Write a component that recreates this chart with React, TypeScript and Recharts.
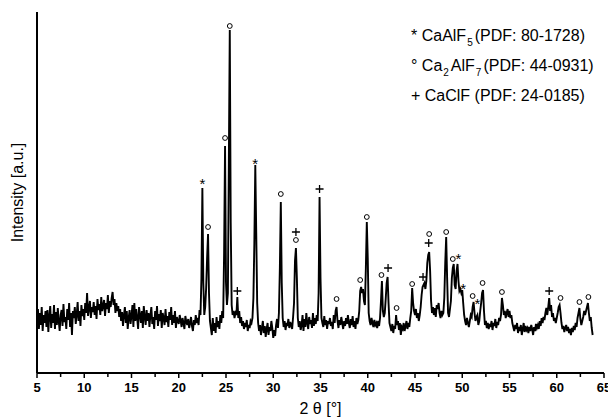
import { ComposedChart, Line, Scatter, XAxis, YAxis } from 'recharts';

// XRD scan: 2θ from 5° in 0.1° steps
const START = 5;
const STEP = 0.1;
const intensity = [
  52, 64, 44, 60, 48, 66, 42, 58, 50, 62,
  46, 63, 41, 57, 67, 45, 59, 50, 68, 44,
  61, 48, 65, 52, 42, 58, 63, 47, 69, 51,
  56, 44, 64, 53, 70, 46, 60, 38, 62, 55,
  66, 49, 58, 71, 52, 62, 47, 68, 57, 64,
  53, 70, 60, 80, 57, 65, 72, 55, 66, 61,
  71, 58, 67, 54, 74, 63, 69, 58, 76, 62,
  67, 73, 57, 70, 64, 78, 60, 72, 66, 75,
  81, 68, 74, 60, 70, 62, 67, 56, 64, 52,
  61, 47, 58, 66, 50, 62, 44, 55, 63, 49,
  57, 68, 46, 70, 52, 64, 55, 44, 66, 58,
  50, 62, 45, 67, 56, 48, 63, 52, 60, 46,
  58, 66, 49, 56, 44, 62, 53, 67, 47, 59,
  52, 63, 45, 60, 55, 48, 64, 51, 57, 46,
  61, 53, 66, 48, 58, 50, 62, 45, 56, 52,
  49, 58, 53, 46, 55, 50, 44, 57, 51, 48,
  54, 45, 50, 56, 47, 42, 53, 48, 58, 50,
  55, 48, 63, 58, 95, 185, 90, 58, 66, 85,
  115, 139, 80, 52, 45, 38, 55, 42, 50, 40,
  56, 46, 52, 44, 58, 50, 62, 55, 120, 227,
  90, 68, 80, 210, 343, 150, 68, 58, 62, 55,
  60, 58, 76, 55, 62, 50, 56, 47, 52, 44,
  50, 46, 53, 42, 48, 45, 52, 50, 55, 75,
  130, 208, 140, 70, 50, 42, 48, 38, 45, 52,
  40, 47, 36, 44, 50, 38, 46, 42, 52, 45,
  35, 43, 37, 48, 54, 45, 60, 105, 171, 90,
  55, 46, 52, 43, 50, 47, 54, 45, 51, 48,
  44, 56, 70, 112, 125, 95, 55, 46, 52, 43,
  48, 58, 42, 54, 46, 60, 50, 44, 56, 49,
  53, 45, 60, 47, 55, 49, 58, 52, 80, 176,
  95, 55, 50, 46, 57, 48, 53, 44, 52, 49,
  55, 47, 51, 44, 58, 50, 62, 66, 52, 45,
  53, 48, 56, 50, 44, 52, 47, 55, 49, 58,
  50, 45, 54, 48, 57, 46, 52, 44, 55, 49,
  53, 62, 82, 86, 80, 84, 72, 68, 105, 151,
  115, 60, 52, 48, 55, 50, 46, 53, 48, 50,
  45, 52, 47, 55, 72, 92, 62, 56, 60, 74,
  90, 96, 70, 50, 46, 42, 49, 40, 47, 44,
  58, 48, 52, 43, 50, 38, 46, 44, 50, 42,
  47, 52, 44, 50, 46, 55, 62, 85, 70, 62,
  58, 64, 55, 60, 52, 58, 66, 78, 86, 88,
  90, 84, 92, 110, 118, 121, 102, 72, 60, 66,
  58, 65, 56, 68, 64, 70, 60, 55, 62, 58,
  60, 75, 110, 136, 95, 60, 56, 64, 72, 95,
  105, 109, 88, 84, 102, 109, 92, 82, 84, 80,
  83, 70, 58, 52, 48, 55, 50, 46, 52, 58,
  56, 66, 71, 60, 52, 56, 58, 48, 52, 62,
  70, 80, 83, 62, 48, 52, 45, 50, 44, 49,
  46, 52, 43, 50, 47, 54, 45, 51, 48, 55,
  52, 58, 75, 68, 58, 62, 55, 60, 64, 56,
  62, 55, 58, 50, 46, 42, 48, 44, 50, 40,
  46, 42, 48, 38, 44, 50, 41, 47, 43, 45,
  40, 46, 42, 48, 44, 38, 46, 42, 49, 45,
  48, 44, 52, 47, 55, 50, 56, 53, 60, 65,
  58, 66, 75, 62, 68, 56, 60, 52, 55, 50,
  55, 60, 66, 68, 60, 50, 44, 47, 41, 45,
  48, 42, 46, 40, 44, 38, 45, 41, 47, 43,
  50, 46, 55, 60, 65, 54, 48, 52, 56, 62,
  58, 62, 66, 70, 60, 52, 56, 45, 38,
];

// phase marks: * CaAlF5, o Ca2AlF7, + CaClF
const markX = [
  22.5, 23.1, 24.9, 25.4, 26.2, 28.1, 30.8, 32.4, 32.4, 34.9,
  36.7, 39.2, 39.9, 41.45, 42.15, 43.05, 44.7, 45.85, 46.45, 46.5,
  48.3, 49.0, 49.6, 50.1, 51.1, 51.6, 52.15, 54.2, 59.2, 60.4,
  62.4, 63.35,
];
const markY = [
  191, 146, 235, 347, 82, 211, 179, 141, 133, 184,
  74, 93, 156, 98, 105, 65, 89, 96, 130, 139,
  141, 114, 116, 86, 77, 71, 90, 81, 82, 75,
  71, 76,
];
const markSym = [
  '*', 'o', 'o', 'o', '+', '*', 'o', '+', 'o', '+',
  'o', 'o', 'o', 'o', '+', 'o', 'o', '+', '+', 'o',
  'o', 'o', '*', '*', 'o', '*', 'o', 'o', '+', 'o',
  'o', 'o',
];

const xTicks = [5, 7.5, 10, 12.5, 15, 17.5, 20, 22.5, 25, 27.5, 30, 32.5, 35, 37.5, 40, 42.5, 45, 47.5, 50, 52.5, 55, 57.5, 60, 62.5, 65];

const pattern = intensity.map((y, i) => ({ x: +(START + i * STEP).toFixed(1), y }));
const marks = markX.map((x, i) => ({ x, y: markY[i], sym: markSym[i] }));

const FONT = '"Liberation Sans", Arial, sans-serif';

const Marker = (props: any) => {
  const { cx, cy, payload } = props;
  if (payload.sym === 'o') {
    return <circle cx={cx} cy={cy} r={2.4} fill="#fff" stroke="#000" strokeWidth={1} />;
  }
  if (payload.sym === '+') {
    return (
      <path
        d={`M${cx - 4},${cy}H${cx + 4}M${cx},${cy - 4}V${cy + 4}`}
        stroke="#000"
        strokeWidth={1.3}
        fill="none"
      />
    );
  }
  return (
    <text x={cx} y={cy + 7} textAnchor="middle" fontFamily={FONT} fontSize={15} fill="#000">
      *
    </text>
  );
};

const XTick = (props: any) => {
  const { x, y, payload } = props;
  const major = payload.value % 5 === 0;
  return (
    <g>
      <line x1={x} x2={x} y1={y} y2={y + (major ? 5 : 4)} stroke="#000" strokeWidth={1.5} />
      {major && (
        <text x={x} y={y + 19} textAnchor="middle" fontFamily={FONT} fontSize={13} fontWeight="bold" fill="#000">
          {payload.value}
        </text>
      )}
    </g>
  );
};

const sub = { fontSize: 10, position: 'relative' as const, top: 5, marginLeft: 1, marginRight: 2 };

export default function App() {
  return (
    <div style={{ position: 'absolute', left: 0, top: 0, width: 608, height: 420, background: '#fff' }}>
      <ComposedChart width={608} height={420} margin={{ top: 12, right: 4, bottom: 0, left: 0 }}>
        <XAxis
          dataKey="x"
          type="number"
          domain={[5, 65]}
          ticks={xTicks}
          interval={0}
          allowDataOverflow
          height={47}
          tickLine={false}
          tickSize={0}
          tickMargin={0}
          tick={<XTick />}
          axisLine={{ stroke: '#000', strokeWidth: 2 }}
          label={({ viewBox }: any) => (
            <text
              x={viewBox.x + viewBox.width / 2}
              y={viewBox.y + 41}
              textAnchor="middle"
              fontFamily={FONT}
              fontSize={16}
              fill="#000"
            >
              2 θ [°]
            </text>
          )}
        />
        <YAxis
          type="number"
          domain={[0, 361]}
          width={37}
          tick={false}
          tickLine={false}
          axisLine={{ stroke: '#000', strokeWidth: 2 }}
          label={({ viewBox }: any) => {
            const cx = viewBox.x + 17;
            const cy = viewBox.y + viewBox.height / 2;
            return (
              <text
                x={cx}
                y={cy}
                transform={`rotate(-90 ${cx} ${cy})`}
                textAnchor="middle"
                dominantBaseline="central"
                fontFamily={FONT}
                fontSize={16}
                fill="#000"
              >
                Intensity [a.u.]
              </text>
            );
          }}
        />
        <Line
          data={pattern}
          dataKey="y"
          type="linear"
          stroke="#000"
          strokeWidth={1.9}
          dot={false}
          isAnimationActive={false}
        />
        <Scatter data={marks} dataKey="y" shape={<Marker />} isAnimationActive={false} />
      </ComposedChart>
      <div
        style={{
          position: 'absolute',
          left: 411,
          top: 22,
          fontFamily: FONT,
          fontSize: 16,
          lineHeight: '28px',
          color: '#000',
          whiteSpace: 'nowrap',
        }}
      >
        <div>
          * CaAlF<span style={sub}>5</span>(PDF: 80-1728)
        </div>
        <div>
          ° Ca<span style={sub}>2</span>AlF<span style={sub}>7</span>(PDF: 44-0931)
        </div>
        <div>+ CaClF (PDF: 24-0185)</div>
      </div>
    </div>
  );
}
